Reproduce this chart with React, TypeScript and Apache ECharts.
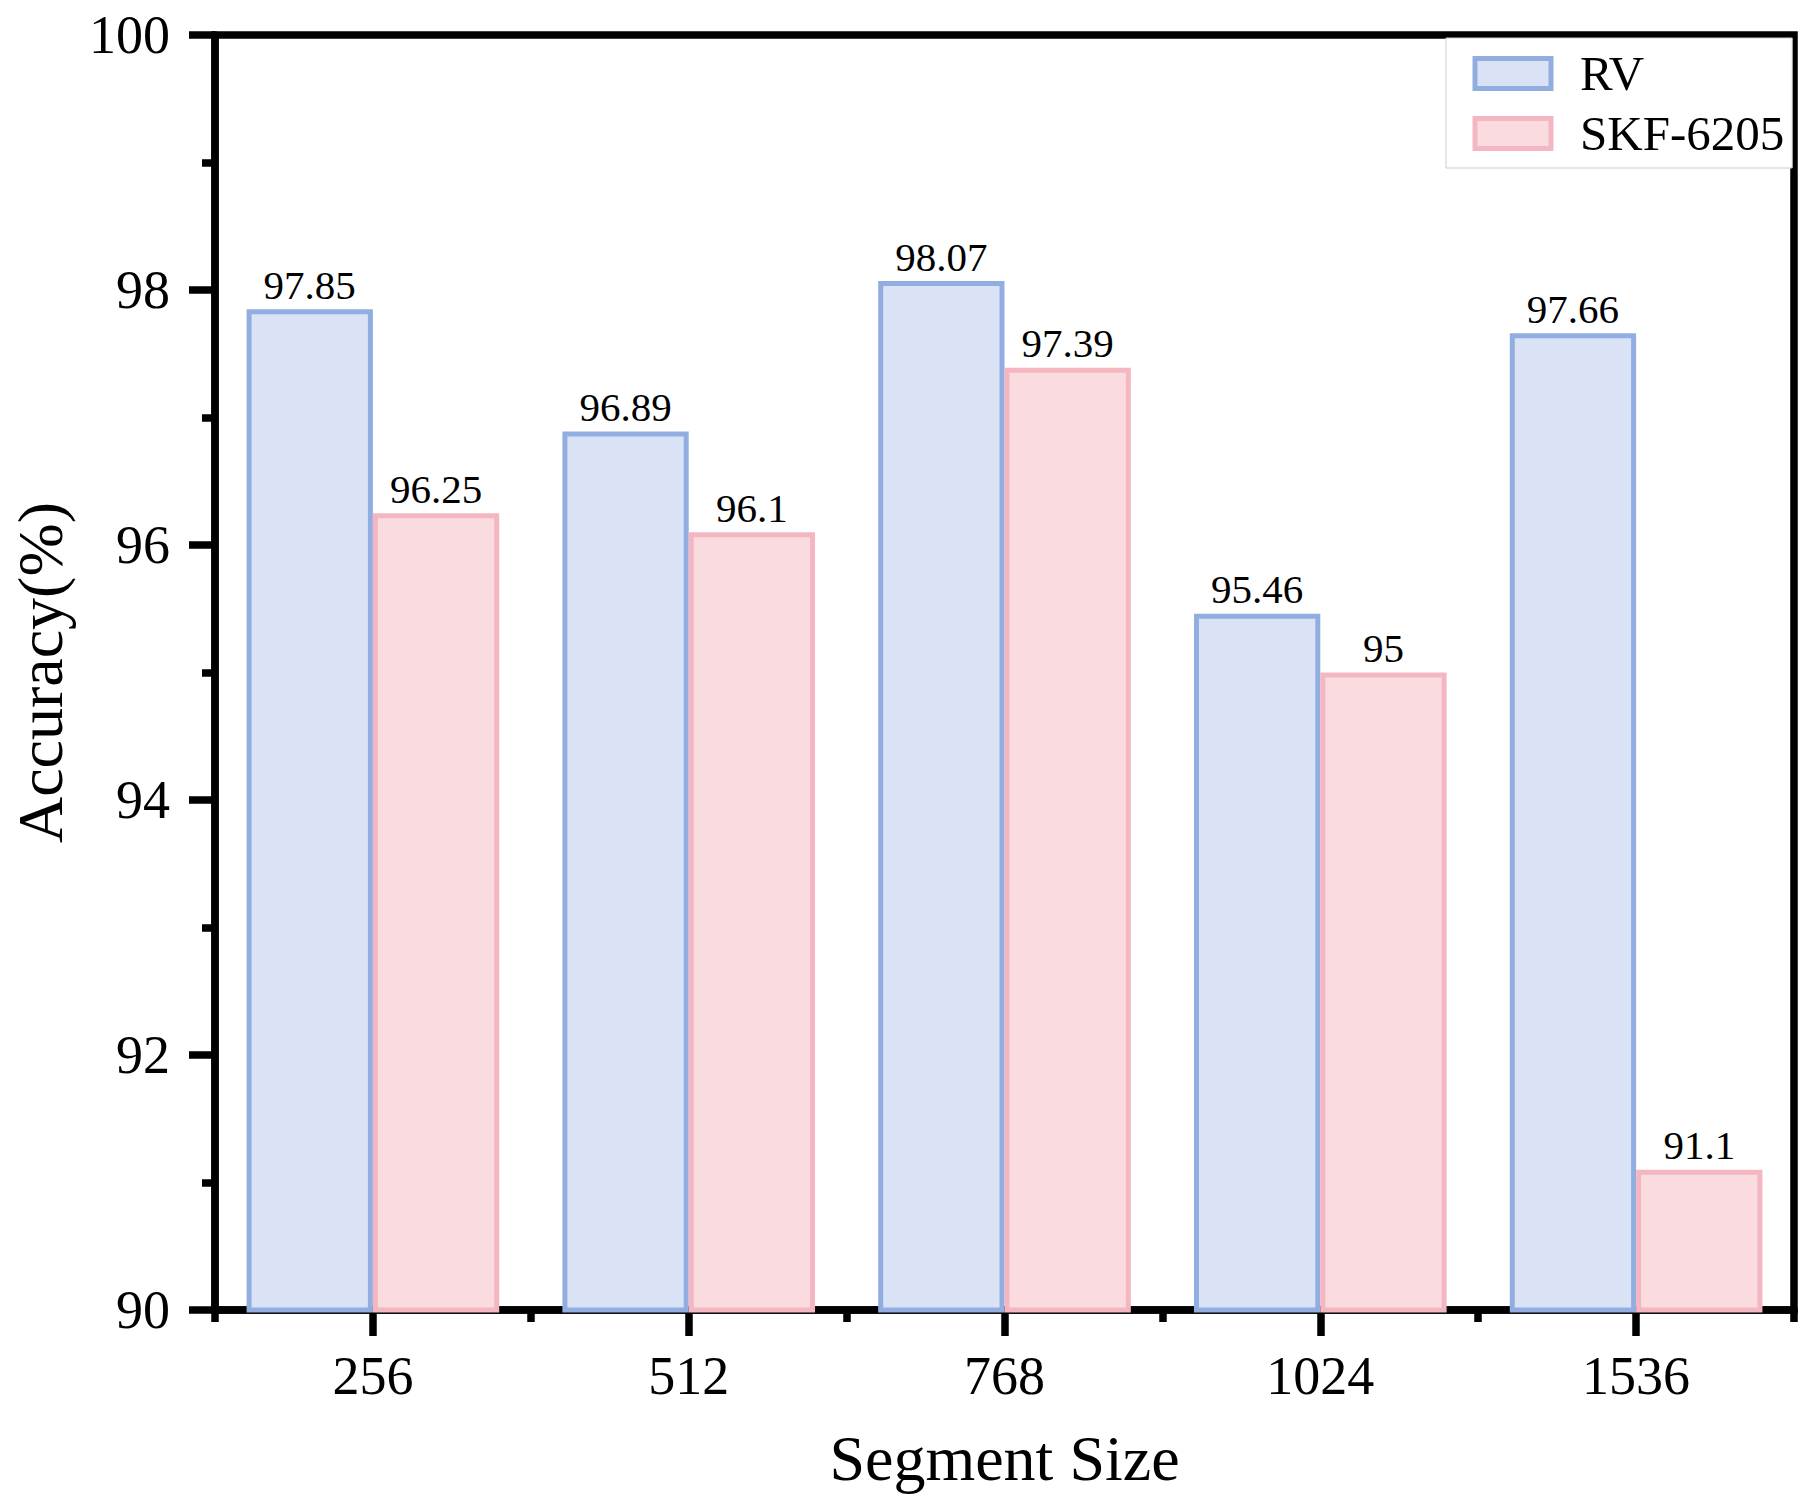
import React, { useEffect, useRef } from "react";
import * as echarts from "echarts";

const categories = ["256", "512", "768", "1024", "1536"];
const rvValues = [97.85, 96.89, 98.07, 95.46, 97.66];
const skfValues = [96.25, 96.1, 97.39, 95, 91.1];
const seriesNames = ["RV", "SKF-6205"];
const yMin = 90;
const yMax = 100;
const yInterval = 2;

const FONT = "'Liberation Serif', 'Times New Roman', serif";

export default function App() {
  const ref = useRef<HTMLDivElement>(null);
  useEffect(() => {
    if (!ref.current) return;
    const chart = echarts.init(ref.current, null, { renderer: "svg" });
    const option: any = {
      animation: false,
      backgroundColor: "#ffffff",
      textStyle: { fontFamily: FONT, color: "#000" },
      grid: {
        left: 214,
        right: 17,
        top: 35,
        bottom: 193,
        show: true,
        borderColor: "#000",
        borderWidth: 7.5,
        backgroundColor: "transparent",
      },
      legend: {
        data: seriesNames,
        orient: "vertical",
        left: 1446,
        top: 38,
        padding: [11, 8, 10, 26.5],
        itemGap: 11,
        itemWidth: 76,
        itemHeight: 30,
        icon: "rect",
        borderColor: "#cccccc",
        borderWidth: 1,
        backgroundColor: "#ffffff",
        itemStyle: { borderWidth: 5 },
        textStyle: {
          fontFamily: FONT,
          fontSize: 49,
          color: "#000",
          padding: [0, 0, 0, 24],
        },
      },
      xAxis: [
        {
          type: "category",
          data: categories,
          position: "bottom",
          name: "Segment Size",
          nameLocation: "middle",
          nameGap: 116,
          nameTextStyle: { fontFamily: FONT, fontSize: 64, color: "#000" },
          axisLine: { show: true, lineStyle: { color: "#000", width: 7.5 } },
          axisTick: {
            show: true,
            alignWithLabel: true,
            length: 26,
            lineStyle: { color: "#000", width: 7.5 },
          },
          axisLabel: {
            fontFamily: FONT,
            fontSize: 54,
            color: "#000",
            margin: 39,
          },
          splitLine: { show: false },
        },
        {
          type: "category",
          data: categories,
          position: "bottom",
          axisLine: { show: false },
          axisTick: {
            show: true,
            alignWithLabel: false,
            interval: 0,
            length: 12,
            lineStyle: { color: "#000", width: 7.5 },
          },
          axisLabel: { show: false },
          splitLine: { show: false },
        },
      ],
      yAxis: {
        type: "value",
        min: yMin,
        max: yMax,
        interval: yInterval,
        name: "Accuracy(%)",
        nameLocation: "middle",
        nameGap: 143,
        nameTextStyle: { fontFamily: FONT, fontSize: 64, color: "#000" },
        axisLine: { show: true, lineStyle: { color: "#000", width: 7.5 } },
        axisTick: {
          show: true,
          length: 26,
          lineStyle: { color: "#000", width: 7.5 },
        },
        minorTick: {
          show: true,
          splitNumber: 2,
          length: 13,
          lineStyle: { color: "#000", width: 7.5 },
        },
        axisLabel: {
          fontFamily: FONT,
          fontSize: 54,
          color: "#000",
          margin: 45,
        },
        splitLine: { show: false },
        minorSplitLine: { show: false },
      },
      series: [
        {
          name: seriesNames[0],
          type: "bar",
          xAxisIndex: 0,
          data: rvValues,
          barGap: "0%",
          barCategoryGap: "20%",
          itemStyle: {
            color: "#DAE2F5",
            borderColor: "#92AEE1",
            borderWidth: 5,
          },
          label: {
            show: true,
            position: "top",
            distance: 4,
            fontFamily: FONT,
            fontSize: 41,
            color: "#000",
          },
        },
        {
          name: seriesNames[1],
          type: "bar",
          xAxisIndex: 0,
          data: skfValues,
          barGap: "0%",
          barCategoryGap: "20%",
          itemStyle: {
            color: "#FADBE0",
            borderColor: "#F4B6C0",
            borderWidth: 5,
          },
          label: {
            show: true,
            position: "top",
            distance: 4,
            fontFamily: FONT,
            fontSize: 41,
            color: "#000",
          },
        },
      ],
    };
    chart.setOption(option);
    return () => chart.dispose();
  }, []);
  return (
    <div
      ref={ref}
      style={{ position: "absolute", left: 0, top: 0, width: 1811, height: 1503 }}
    />
  );
}
